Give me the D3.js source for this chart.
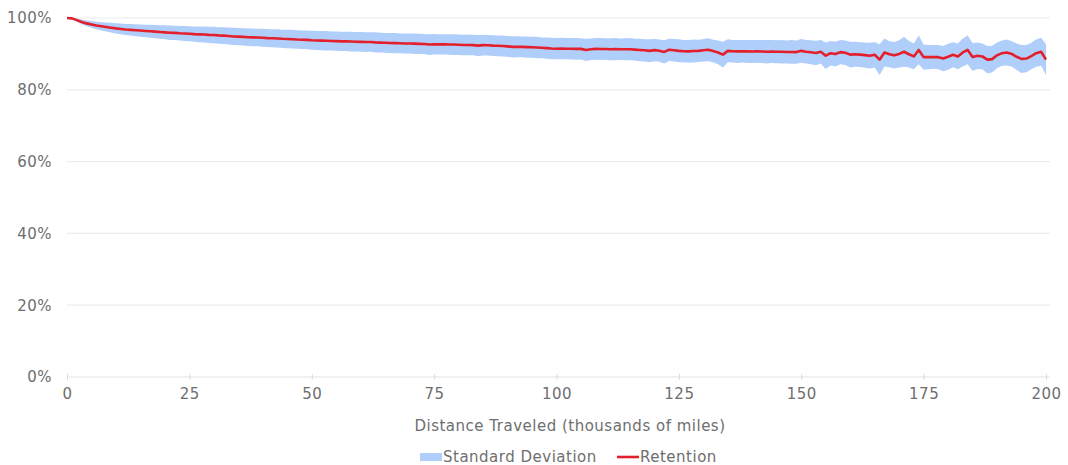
<!DOCTYPE html>
<html>
<head>
<meta charset="utf-8">
<script src="https://cdn.jsdelivr.net/npm/d3@7"></script>
<style>
  html, body { margin: 0; padding: 0; background: #ffffff; }
  svg { display: block; font-family: "DejaVu Sans", "Open Sans", sans-serif; }
  svg text { letter-spacing: 0.5px; }
</style>
</head>
<body>
<svg id="chart" width="1068" height="465"></svg>
<script>
// Battery capacity retention vs. distance travelled (thousands of miles), 1k-mile bins
const retention = [
  100.0, 99.9, 99.4, 98.9, 98.5, 98.2, 97.9, 97.7, 97.5, 97.3,
  97.1, 96.95, 96.8, 96.7, 96.6, 96.5, 96.4, 96.3, 96.2, 96.1,
  96.0, 95.9, 95.85, 95.75, 95.7, 95.6, 95.5, 95.45, 95.4, 95.3,
  95.25, 95.15, 95.1, 95.0, 94.85, 94.8, 94.75, 94.65, 94.6, 94.55,
  94.5, 94.4, 94.35, 94.3, 94.2, 94.15, 94.1, 94.0, 93.95, 93.9,
  93.8, 93.75, 93.7, 93.65, 93.6, 93.55, 93.5, 93.5, 93.45, 93.4,
  93.35, 93.3, 93.3, 93.2, 93.15, 93.1, 93.05, 93.0, 92.95, 92.9,
  92.9, 92.85, 92.8, 92.75, 92.6, 92.7, 92.65, 92.65, 92.6, 92.6,
  92.55, 92.5, 92.5, 92.45, 92.3, 92.45, 92.4, 92.3, 92.25, 92.2,
  92.1, 91.95, 92.0, 91.95, 91.9, 91.85, 91.8, 91.7, 91.6, 91.5,
  91.45, 91.5, 91.45, 91.45, 91.4, 91.4, 91.1, 91.3, 91.4, 91.35,
  91.35, 91.3, 91.35, 91.3, 91.3, 91.3, 91.2, 91.1, 91.0, 90.85,
  91.05, 90.9, 90.55, 91.15, 91.0, 90.85, 90.75, 90.7, 90.8, 90.85,
  91.0, 91.15, 90.8, 90.4, 89.8, 90.85, 90.75, 90.7, 90.75, 90.7,
  90.65, 90.7, 90.65, 90.6, 90.65, 90.6, 90.6, 90.55, 90.55, 90.5,
  90.85, 90.6, 90.45, 90.25, 90.6, 89.5, 90.2, 89.95, 90.5, 90.3,
  89.8, 89.9, 89.8, 89.65, 89.5, 89.75, 88.4, 90.4, 89.9, 89.6,
  90.0, 90.6, 89.9, 89.3, 91.1, 89.1, 89.1, 89.15, 89.1, 88.7,
  89.2, 89.75, 89.3, 90.4, 91.1, 89.15, 89.5, 89.3, 88.4, 88.55,
  89.6, 90.2, 90.4, 90.0, 89.2, 88.6, 88.7, 89.4, 90.2, 90.6,
  88.4
];

// One standard deviation either side of the retention value
const stdDev = [
  0.0, 0.2, 0.45, 0.65, 0.8, 0.95, 1.05, 1.15, 1.25, 1.35,
  1.45, 1.5, 1.55, 1.6, 1.65, 1.7, 1.75, 1.8, 1.85, 1.9,
  1.95, 2.0, 2.0, 2.05, 2.1, 2.1, 2.15, 2.2, 2.2, 2.25,
  2.3, 2.3, 2.35, 2.35, 2.4, 2.4, 2.4, 2.45, 2.45, 2.45,
  2.5, 2.5, 2.5, 2.55, 2.55, 2.55, 2.6, 2.6, 2.6, 2.6,
  2.65, 2.65, 2.65, 2.7, 2.65, 2.7, 2.7, 2.7, 2.75, 2.7,
  2.75, 2.75, 2.7, 2.8, 2.75, 2.75, 2.8, 2.8, 2.75, 2.8,
  2.8, 2.85, 2.8, 2.8, 2.9, 2.85, 2.85, 2.8, 2.85, 2.9,
  2.85, 2.85, 2.9, 2.85, 2.95, 2.9, 2.85, 2.9, 2.9, 2.95,
  2.9, 2.95, 2.9, 2.9, 2.95, 2.9, 3.0, 2.9, 2.95, 3.0,
  2.95, 3.0, 2.95, 3.0, 3.05, 2.95, 3.1, 3.0, 3.0, 3.05,
  3.0, 3.05, 3.1, 3.0, 3.05, 3.1, 3.05, 3.15, 3.1, 3.2,
  3.1, 3.1, 3.25, 3.1, 3.15, 3.2, 3.1, 3.15, 3.2, 3.1,
  3.15, 3.2, 3.15, 3.3, 3.6, 3.2, 3.15, 3.2, 3.15, 3.2,
  3.2, 3.15, 3.2, 3.25, 3.2, 3.2, 3.25, 3.2, 3.3, 3.25,
  3.3, 3.3, 3.35, 3.4, 3.3, 3.7, 3.4, 3.45, 3.35, 3.4,
  3.6, 3.5, 3.45, 3.5, 3.6, 3.55, 4.3, 3.9, 3.6, 3.7,
  3.8, 4.2, 3.7, 3.6, 4.0, 3.5, 3.4, 3.3, 3.4, 3.5,
  3.6, 3.5, 3.6, 3.9, 4.0, 3.9, 3.7, 3.6, 3.8, 3.7,
  3.6, 3.5, 3.6, 3.5, 3.7, 3.9, 3.8, 3.7, 3.8, 3.9,
  4.3
];

// Distance bins (thousands of miles), one per value above
const milesK = d3.range(0, retention.length);

const xTicks = [0, 25, 50, 75, 100, 125, 150, 175, 200];
const yTicks = [0, 20, 40, 60, 80, 100];

const xTitle = "Distance Traveled (thousands of miles)";
const legendItems = ["Standard Deviation", "Retention"];

const bandColor = "#b0cefa";
const lineColor = "#e21f2b";
const textColor = "#6e6e6e";
const gridColor = "#ececec";
const fontFamily = '"DejaVu Sans", "Open Sans", sans-serif';
const fontSize = 15;

const svg = d3.select("#chart");
const margin = { left: 67, right: 22, top: 18, bottom: 88 };
const width = 1068, height = 465;

const x = d3.scaleLinear().domain([0, 200]).range([margin.left, width - margin.right]);
const y = d3.scaleLinear().domain([0, 100]).range([height - margin.bottom, margin.top]);

// Horizontal grid
svg.append("g")
  .selectAll("line")
  .data(yTicks.filter(d => d !== 0))
  .join("line")
  .attr("x1", x(0))
  .attr("x2", x(200) + 4)
  .attr("y1", d => y(d))
  .attr("y2", d => y(d))
  .attr("stroke", gridColor)
  .attr("stroke-width", 1.2);

// Y labels
svg.append("g")
  .selectAll("text")
  .data(yTicks)
  .join("text")
  .attr("x", 52)
  .attr("y", d => y(d))
  .attr("dy", "0.36em")
  .attr("text-anchor", "end")
  .attr("fill", textColor)
  .attr("font-size", fontSize)
  .text(d => d + "%");

// X axis
const xAxis = svg.append("g")
  .attr("transform", `translate(0,${y(0)})`)
  .call(d3.axisBottom(x).tickValues(xTicks).tickSize(4).tickSizeOuter(0).tickPadding(7));
xAxis.select(".domain").attr("stroke", "#e3e3e3").attr("stroke-width", 1.2)
  .attr("d", `M${x(0)},0H${x(200) + 4}`);
xAxis.selectAll(".tick line").attr("stroke", "#dcdcdc").attr("y1", -3).attr("y2", 3);
xAxis.selectAll(".tick text")
  .attr("fill", textColor)
  .attr("font-size", fontSize)
  .attr("font-family", fontFamily);

// Axis title
svg.append("text")
  .attr("x", 570)
  .attr("y", 431)
  .attr("text-anchor", "middle")
  .attr("fill", textColor)
  .attr("font-size", fontSize)
  .text(xTitle);

// Standard deviation band
const band = d3.area()
  .x((d, i) => x(milesK[i]))
  .y0((d, i) => y(retention[i] - stdDev[i]))
  .y1((d, i) => y(retention[i] + stdDev[i]));

svg.append("path")
  .datum(retention)
  .attr("d", band)
  .attr("fill", bandColor);

// Retention line
const line = d3.line()
  .x((d, i) => x(milesK[i]))
  .y(d => y(d));

svg.append("path")
  .datum(retention)
  .attr("d", line)
  .attr("fill", "none")
  .attr("stroke", lineColor)
  .attr("stroke-width", 2.6)
  .attr("stroke-linejoin", "round");

// Legend
const legend = svg.append("g").attr("transform", "translate(0,457)");
legend.append("rect")
  .attr("x", 420).attr("y", -4).attr("width", 22).attr("height", 8)
  .attr("fill", bandColor);
legend.append("text")
  .attr("x", 443).attr("dy", "0.36em")
  .attr("fill", textColor).attr("font-size", fontSize)
  .text(legendItems[0]);
legend.append("line")
  .attr("x1", 617).attr("x2", 639).attr("y1", 0).attr("y2", 0)
  .attr("stroke", lineColor).attr("stroke-width", 2.6);
legend.append("text")
  .attr("x", 640).attr("dy", "0.36em")
  .attr("fill", textColor).attr("font-size", fontSize)
  .text(legendItems[1]);
</script>
</body>
</html>
